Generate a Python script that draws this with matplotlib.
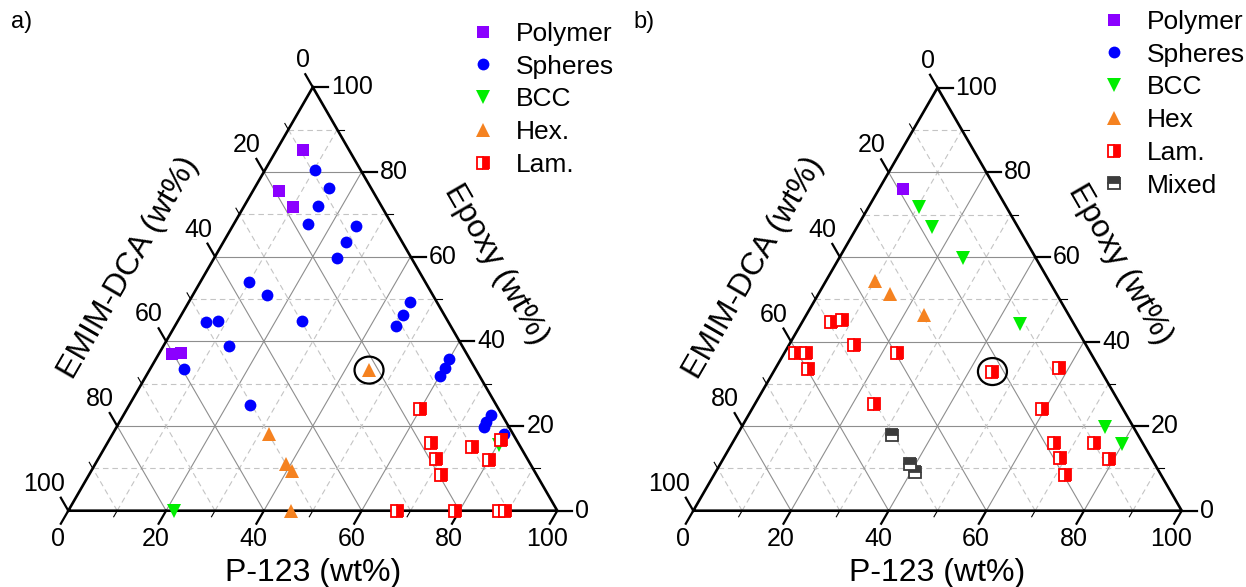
import numpy as np
import matplotlib
matplotlib.use("Agg")
import matplotlib.pyplot as plt
from matplotlib.patches import Ellipse

plt.rcParams["font.family"] = ["Liberation Sans", "DejaVu Sans"]

# ---------------------------------------------------------------------------
# Compositions: (P-123 wt%, Epoxy wt%), EMIM-DCA = rest
# ---------------------------------------------------------------------------
# panel a
POLY_A_P = [5.4, 5.4, 10.2, 2.6, 4.4]
POLY_A_E = [85.1, 75.5, 71.6, 37.1, 37.3]
SPH_A_P = [10.3, 15.3, 15.2, 15.2, 25.3, 25.1, 25.2, 10.0, 15.2, 45.3, 45.2, 45.2,
           5.9, 8.2, 25.3, 13.5, 6.9, 24.7, 60.0, 60.2, 60.2, 75.1, 75.0, 75.2, 80.1]
SPH_A_E = [80.5, 76.2, 71.9, 67.6, 67.2, 63.5, 59.6, 53.9, 50.9, 49.3, 46.3, 43.7,
           44.5, 44.9, 44.8, 38.9, 33.4, 25.0, 35.8, 33.8, 31.8, 22.5, 20.9, 19.7, 18.0]
BCC_A_P = [21.6, 80.3]
BCC_A_E = [0.0, 15.4]
HEX_A_P = [44.9, 31.9, 39.0, 41.0, 45.5]
HEX_A_E = [33.2, 18.2, 11.1, 9.3, 0.0]
LAM_A_P = [60.0, 66.2, 75.0, 69.1, 80.1, 72.0, 80.1, 67.3, 79.1, 88.1, 89.3]
LAM_A_E = [24.0, 16.0, 15.0, 12.3, 11.9, 8.5, 16.8, 0.0, 0.0, 0.0, 0.0]

# panel b
POLY_B_P = [5.0]
POLY_B_E = [76.0]
SPH_B_P = []
SPH_B_E = []
BCC_B_P = [10.3, 15.4, 25.3, 44.8, 74.3, 79.8]
BCC_B_E = [71.7, 67.1, 59.8, 44.1, 19.9, 15.8]
HEX_B_P = [10.0, 14.7, 24.1]
HEX_B_E = [54.3, 51.3, 46.2]
LAM_B_P = [5.8, 7.9, 13.3, 2.3, 4.3, 6.7, 23.0, 44.8, 58.0, 24.5, 59.4, 65.9, 74.0,
           68.8, 79.1, 71.8]
LAM_B_E = [44.7, 45.1, 39.1, 37.2, 37.4, 33.6, 37.3, 32.9, 33.8, 25.2, 24.1, 16.1,
           16.0, 12.5, 12.2, 8.5]
MIX_B_P = [31.7, 38.9, 40.9]
MIX_B_E = [18.0, 11.0, 9.1]

HIGHLIGHT_A = (44.9, 33.2)
HIGHLIGHT_B = (44.8, 32.9)

LABELS_A = ["Polymer", "Spheres", "BCC", "Hex.", "Lam."]
LABELS_B = ["Polymer", "Spheres", "BCC", "Hex", "Lam.", "Mixed"]

STYLE = {
    "poly": dict(marker="s", ms=8.5, color="#8b00ff", mec="#8b00ff", mew=0),
    "sph": dict(marker="o", ms=8.5, color="#0000ff", mec="#0000ff", mew=0),
    "bcc": dict(marker="v", ms=10.5, color="#00ee00", mec="#00ee00", mew=0),
    "hex": dict(marker="^", ms=10.5, color="#f58220", mec="#f58220", mew=0),
    "lam": dict(marker="s", ms=8.3, color="#ff0000", mec="#ff0000", mew=1.3,
                fillstyle="right", markerfacecoloralt="white"),
    "mix": dict(marker="s", ms=8.3, color="#3c3c3c", mec="#3c3c3c", mew=1.3,
                fillstyle="top", markerfacecoloralt="white"),
}

FIG_W, FIG_H = 1246, 587
S3 = np.sqrt(3) / 2

fig = plt.figure(figsize=(FIG_W / 100, FIG_H / 100), dpi=100)


def tern(p, e):
    p = np.asarray(p, float)
    e = np.asarray(e, float)
    return (p + e / 2) / 100, e / 100 * S3


def make_ax(x0, x1, bl_x, br_x, base_y):
    px = br_x - bl_x
    ax = fig.add_axes([x0 / FIG_W, 0, (x1 - x0) / FIG_W, 1])
    ax.set_xlim((x0 - bl_x) / px, (x1 - bl_x) / px)
    ax.set_ylim((base_y - FIG_H) / px, base_y / px)
    ax.axis("off")
    return ax, 1.0 / px


def draw_frame(ax, u):
    # grid
    for v in range(10, 100, 10):
        if v % 20 == 0:
            kw = dict(color="#8e8e8e", lw=0.8, ls="-")
        else:
            kw = dict(color="#c4c4c4", lw=0.8, ls=(0, (5, 3.5)))
        for (p0, e0), (p1, e1) in [((0, v), (100 - v, v)),
                                   ((v, 0), (v, 100 - v)),
                                   ((100 - v, 0), (0, 100 - v))]:
            x, y = tern([p0, p1], [e0, e1])
            ax.plot(x, y, zorder=1, **kw)
    # border
    x, y = tern([0, 100, 0, 0], [0, 0, 100, 0])
    ax.plot(x, y, color="black", lw=1.9, zorder=3, solid_joinstyle="miter",
            solid_capstyle="projecting")
    # ticks and tick labels
    for v in range(0, 101, 10):
        major = v % 20 == 0
        L = (15 if major else 7) * u
        lw = 1.6 if major else 0.8
        xp, yp = tern(v, 0)
        ax.plot([xp, xp - 0.5 * L], [yp, yp - S3 * L], color="black", lw=lw, zorder=3)
        xe, ye = tern(100 - v, v)
        ax.plot([xe, xe + L], [ye, ye], color="black", lw=lw, zorder=3)
        xd, yd = tern(0, 100 - v)
        ax.plot([xd, xd - 0.5 * L], [yd, yd + S3 * L], color="black", lw=lw, zorder=3)
        if major:
            ax.text(xp - 10.5 * u, yp - 28 * u, str(v), ha="center", va="center", fontsize=18)
            ax.text(xe + 18 * u, ye, str(v), ha="left", va="center", fontsize=18)
            ax.text(xd - 3 * u, yd + 27 * u, str(v), ha="right", va="center", fontsize=18)
    # axis titles
    ax.text(0.5, -62 * u, "P-123 (wt%)", ha="center", va="center", fontsize=23)
    mx, my = 0.25, S3 / 2
    ax.text(mx - 69 * u * S3 - 4 * u * 0.5, my + 69 * u * 0.5 - 4 * u * S3,
            "EMIM-DCA (wt%)", ha="center", va="center", fontsize=23,
            rotation=60, rotation_mode="anchor")
    mx = 0.75
    ax.text(mx + 70 * u * S3, my + 70 * u * 0.5, "Epoxy (wt%)", ha="center",
            va="center", fontsize=23, rotation=-60, rotation_mode="anchor")


def draw_points(ax, series, labels):
    handles = []
    for (key, p, e), lab in zip(series, labels):
        x, y = tern(p, e)
        h, = ax.plot(x, y, ls="none", zorder=5, clip_on=False, label=lab, **STYLE[key])
        handles.append(h)
    return handles


def highlight(ax, u, pe):
    x, y = tern(*pe)
    ax.add_patch(Ellipse((float(x), float(y)), 29 * u, 27 * u, fill=False,
                         ec="black", lw=1.6, zorder=6))


# panel a
ax_a, u_a = make_ax(0, 623, 68.3, 557.3, 510.7)
draw_frame(ax_a, u_a)
h_a = draw_points(ax_a, [("poly", POLY_A_P, POLY_A_E), ("sph", SPH_A_P, SPH_A_E),
                         ("bcc", BCC_A_P, BCC_A_E), ("hex", HEX_A_P, HEX_A_E),
                         ("lam", LAM_A_P, LAM_A_E)], LABELS_A)
highlight(ax_a, u_a, HIGHLIGHT_A)

# panel b
ax_b, u_b = make_ax(623, 1246, 693.3, 1181.7, 510.7)
draw_frame(ax_b, u_b)
h_b = draw_points(ax_b, [("poly", POLY_B_P, POLY_B_E), ("sph", SPH_B_P, SPH_B_E),
                         ("bcc", BCC_B_P, BCC_B_E), ("hex", HEX_B_P, HEX_B_E),
                         ("lam", LAM_B_P, LAM_B_E), ("mix", MIX_B_P, MIX_B_E)], LABELS_B)
highlight(ax_b, u_b, HIGHLIGHT_B)

leg_kw = dict(loc="upper left", frameon=False, fontsize=19, handlelength=1.0,
              handletextpad=0.72, labelspacing=0.33, borderpad=0, borderaxespad=0,
              bbox_transform=fig.transFigure)
fig.legend(handles=h_a, labels=LABELS_A, bbox_to_anchor=(470 / FIG_W, 1 - 22 / FIG_H), **leg_kw)
fig.legend(handles=h_b, labels=LABELS_B, bbox_to_anchor=(1101 / FIG_W, 1 - 10 / FIG_H), **leg_kw)

fig.text(22 / FIG_W, 1 - 22 / FIG_H, "a)", ha="center", va="center", fontsize=17)
fig.text(644 / FIG_W, 1 - 22 / FIG_H, "b)", ha="center", va="center", fontsize=17)

fig.savefig("out.png", dpi=100)
